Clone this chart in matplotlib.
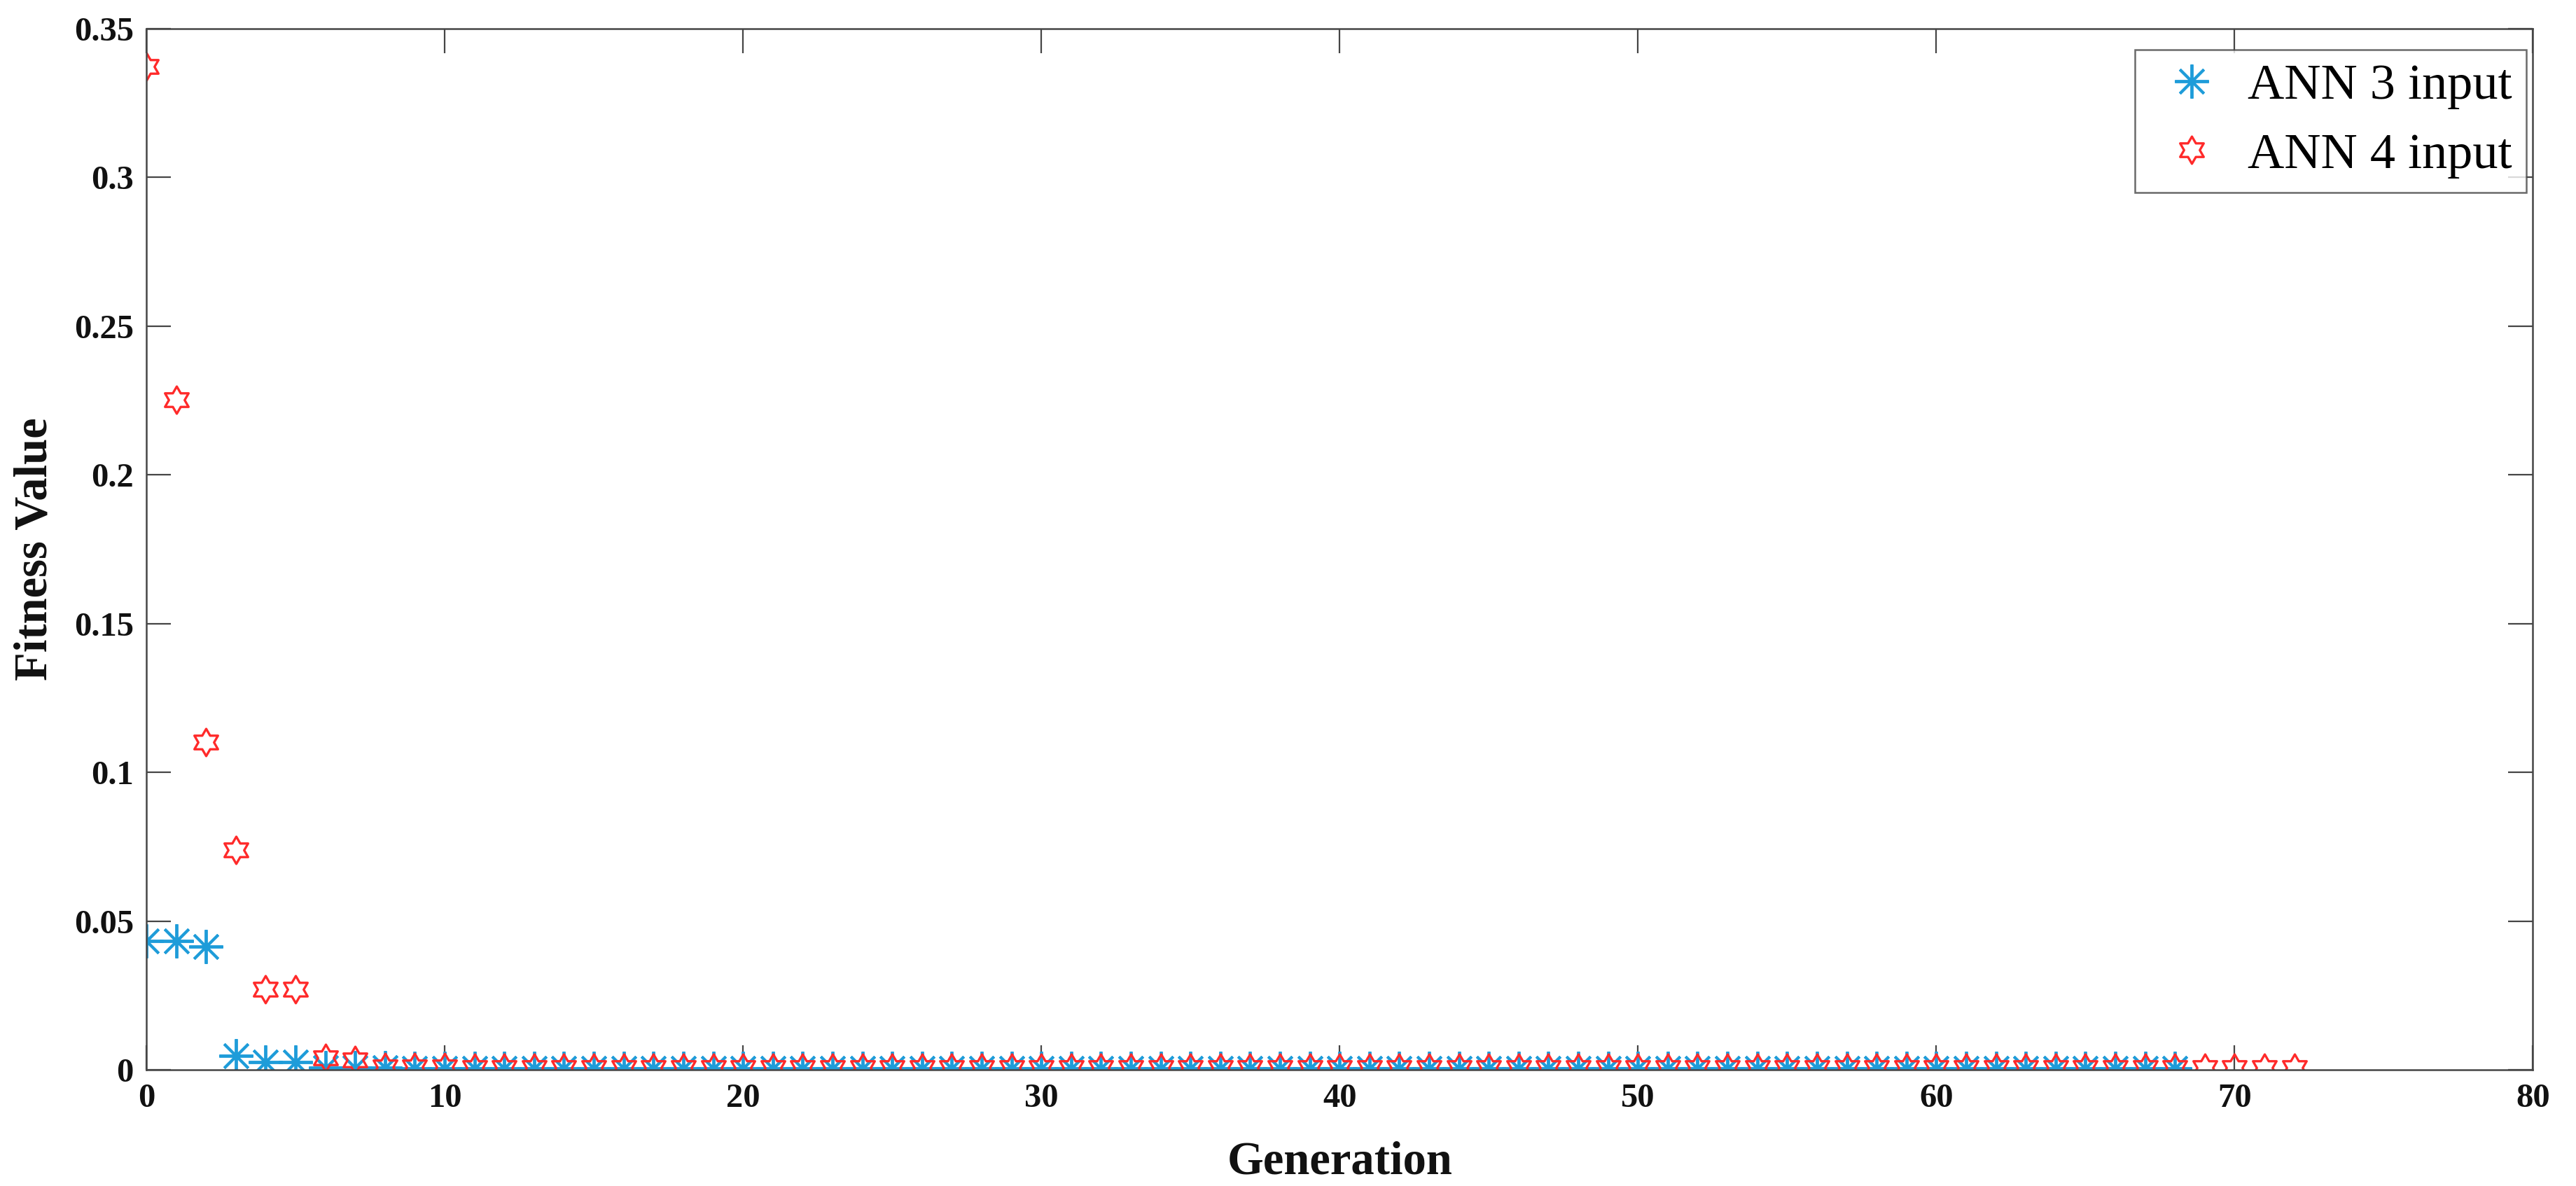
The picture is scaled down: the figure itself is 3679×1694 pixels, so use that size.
import numpy as np
import matplotlib
matplotlib.use("Agg")
import matplotlib.pyplot as plt
from matplotlib.path import Path

# ---- data ----
ann3_fitness = [
    0.0434, 0.0434, 0.0415, 0.0047, 0.0026, 0.0026, 0.0008, 0.0008, 0.0008, 0.0005,
    0.0005, 0.0005, 0.0005, 0.0005, 0.0005, 0.0005, 0.0005, 0.0005, 0.0005, 0.0005,
    0.0005, 0.0005, 0.0005, 0.0005, 0.0005, 0.0005, 0.0005, 0.0005, 0.0005, 0.0005,
    0.0005, 0.0005, 0.0005, 0.0005, 0.0005, 0.0005, 0.0005, 0.0005, 0.0005, 0.0005,
    0.0005, 0.0005, 0.0005, 0.0005, 0.0005, 0.0005, 0.0005, 0.0005, 0.0005, 0.0005,
    0.0005, 0.0005, 0.0005, 0.0005, 0.0005, 0.0005, 0.0005, 0.0005, 0.0005, 0.0005,
    0.0005, 0.0005, 0.0005, 0.0005, 0.0005, 0.0005, 0.0005, 0.0005, 0.0005,
]
ann4_fitness = [
    0.3372, 0.2252, 0.1101, 0.0738, 0.0271, 0.0271, 0.0039, 0.0033, 0.0009, 0.0009,
    0.0009, 0.0006, 0.0006, 0.0006, 0.0006, 0.0006, 0.0006, 0.0006, 0.0006, 0.0006,
    0.0006, 0.0006, 0.0006, 0.0006, 0.0006, 0.0006, 0.0006, 0.0006, 0.0006, 0.0006,
    0.0006, 0.0006, 0.0006, 0.0006, 0.0006, 0.0006, 0.0006, 0.0006, 0.0006, 0.0006,
    0.0006, 0.0006, 0.0006, 0.0006, 0.0006, 0.0006, 0.0006, 0.0006, 0.0006, 0.0006,
    0.0006, 0.0006, 0.0006, 0.0006, 0.0006, 0.0006, 0.0006, 0.0006, 0.0006, 0.0006,
    0.0006, 0.0006, 0.0006, 0.0006, 0.0006, 0.0006, 0.0006, 0.0006, 0.0006, 0.0006,
    0.0006, 0.0006, 0.0006,
]
ann3_generation = np.arange(len(ann3_fitness))
ann4_generation = np.arange(len(ann4_fitness))
series_labels = ["ANN 3 input", "ANN 4 input"]
x_ticks = [0, 10, 20, 30, 40, 50, 60, 70, 80]
y_ticks = [0, 0.05, 0.1, 0.15, 0.2, 0.25, 0.3, 0.35]
y_tick_labels = ["0", "0.05", "0.1", "0.15", "0.2", "0.25", "0.3", "0.35"]

# ---- markers ----
ang = np.deg2rad(np.arange(12) * 30 + 90)
rad = np.array([1.0 if i % 2 == 0 else 1 / np.sqrt(3) for i in range(12)])
hex_verts = np.column_stack([rad * np.cos(ang), rad * np.sin(ang)])
hex_verts = np.vstack([hex_verts, hex_verts[:1]])
hexagram = Path(hex_verts, closed=True)

blue = "#1E9CD9"
red = "#FF2A2A"
edge = "#454545"
serif = "Liberation Serif"

fig = plt.figure(figsize=(18.4, 8.47), dpi=200)
ax = fig.add_axes([0.0568, 0.098, 0.9262, 0.878])

ax.plot(ann3_generation, ann3_fitness, linestyle="none", marker=(8, 2, 0),
        markersize=17.5, markeredgewidth=1.4, color=blue, label=series_labels[0])
ax.plot(ann4_generation, ann4_fitness, linestyle="none", marker=hexagram,
        markersize=14, markeredgewidth=1.2, markerfacecolor="none",
        markeredgecolor=red, label=series_labels[1])

ax.set_xlim(0, 80)
ax.set_ylim(0, 0.35)
ax.set_xticks(x_ticks)
ax.set_yticks(y_ticks)
ax.set_yticklabels(y_tick_labels)

for lab in ax.get_xticklabels() + ax.get_yticklabels():
    lab.set_fontfamily(serif)
    lab.set_fontweight("bold")
    lab.set_fontsize(17.5)
    lab.set_color("#111111")

ax.tick_params(direction="in", length=12.5, width=0.8, color=edge,
               top=True, right=True)
ax.tick_params(axis="y", pad=6.5)
ax.tick_params(axis="x", pad=7)
for s in ax.spines.values():
    s.set_color(edge)
    s.set_linewidth(0.9)

ax.set_xlabel("Generation", family=serif, weight="bold", size=24, color="#111111")
ax.xaxis.set_label_coords(0.5, -0.1001)
ax.xaxis.label.set_verticalalignment("baseline")

ax.set_ylabel("Fitness Value", family=serif, weight="bold", size=24, color="#111111")
ax.yaxis.set_label_coords(-0.0417, 0.5)
ax.yaxis.label.set_verticalalignment("baseline")

leg = ax.legend(loc="upper right", bbox_to_anchor=(0.9971, 0.9798),
                borderaxespad=0, fancybox=False, frameon=True,
                prop=dict(family=serif, size=26),
                handlelength=1.7, handletextpad=0.25, labelspacing=0.45,
                borderpad=0.28)
leg.get_frame().set_edgecolor(edge)
leg.get_frame().set_linewidth(0.9)

fig.savefig("out.png", dpi=200)
